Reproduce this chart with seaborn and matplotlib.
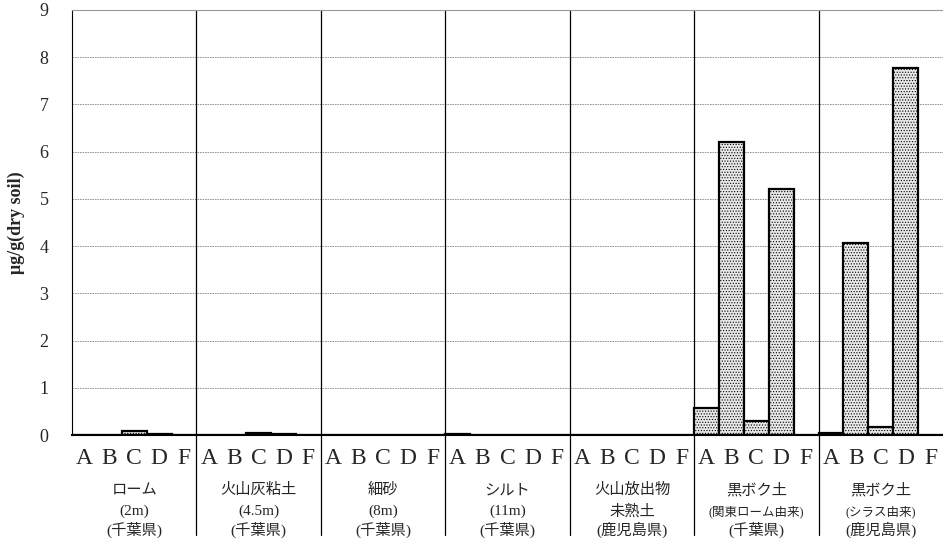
import numpy as np
import pandas as pd
import matplotlib
matplotlib.use('Agg')
import matplotlib.pyplot as plt
import seaborn as sns

# data
letters = ['A', 'B', 'C', 'D', 'F']
group_names = ['ローム', '火山灰粘土', '細砂', 'シルト', '火山放出物', '黒ボク土', '黒ボク土']
group_line2 = ['(2m)', '(4.5m)', '(8m)', '(11m)', '未熟土', '(関東ローム由来)', '(シラス由来)']
group_line3 = ['(千葉県)', '(千葉県)', '(千葉県)', '(千葉県)', '(鹿児島県)', '(千葉県)', '(鹿児島県)']
values = [
    [0.0, 0.0, 0.08, 0.02, 0.0],
    [0.0, 0.0, 0.04, 0.02, 0.0],
    [0.0, 0.0, 0.01, 0.01, 0.0],
    [0.03, 0.0, 0.01, 0.01, 0.0],
    [0.0, 0.01, 0.0, 0.0, 0.0],
    [0.58, 6.2, 0.29, 5.21, 0.0],
    [0.05, 4.07, 0.17, 7.78, 0.0],
]

rows = []
for gi, vals in enumerate(values):
    for li, v in enumerate(vals):
        rows.append({'key': f'{gi}{letters[li]}', 'letter': letters[li], 'value': v})
df = pd.DataFrame(rows)

sns.set_style('white')
plt.rcParams['font.family'] = ['Liberation Serif', 'Noto Sans CJK JP', 'DejaVu Sans']
plt.rcParams['hatch.linewidth'] = 0.5

fig = plt.figure(figsize=(9.43, 5.41), dpi=100)
ax = fig.add_axes([72 / 943, 1 - 435 / 541, 1 - 72 / 943, (435 - 10) / 541])

sns.barplot(data=df, x='key', y='value', order=list(df['key']), width=1.0,
            color='#e8e8e8', edgecolor='black', linewidth=1.6, ax=ax, zorder=3)
for p in ax.patches:
    p.set_hatch('......')

n = len(df)
ax.set_xlim(-0.5, n - 0.5)
ax.set_ylim(0, 9)
ax.set_yticks(range(10))
ax.set_yticklabels([str(i) for i in range(10)], fontsize=13)
ax.tick_params(axis='y', length=0, pad=17)

ax.set_xticks(range(n))
ax.set_xticklabels(list(df['letter']), fontsize=17)
ax.tick_params(axis='x', length=0, pad=9)
ax.set_xticks(np.arange(0.5, n - 1, 1), minor=True)
ax.tick_params(axis='x', which='minor', direction='in', length=4, width=0.8, color='#555555')

for y in range(1, 9):
    ax.axhline(y, color='#888888', lw=0.6, ls=(0, (2, 1)), zorder=1)

ax.spines['right'].set_visible(False)
ax.spines['top'].set_color('#999999')
ax.spines['left'].set_color('black')
ax.spines['bottom'].set_color('black')
ax.spines['bottom'].set_linewidth(1.5)
ax.spines['bottom'].set_zorder(4)

# group separators extending into label area
for g in range(1, len(values)):
    ax.axvline(g * 5 - 0.5, ymin=-0.235, ymax=1, color='black', lw=0.9, clip_on=False, zorder=2)

# group labels
for g in range(len(values)):
    xc = g * 5 + 2
    ax.text(xc, -1.16, group_names[g], ha='center', va='center', fontsize=11,
            family=['Noto Sans CJK JP'])
    small = g >= 5
    ax.text(xc, -1.62, group_line2[g], ha='center', va='center',
            fontsize=9 if small else 11, family=['Liberation Serif', 'Noto Sans CJK JP'])
    ax.text(xc, -2.0, group_line3[g], ha='center', va='center', fontsize=11,
            family=['Liberation Serif', 'Noto Sans CJK JP'])

ax.set_xlabel('')
ax.set_ylabel('μg/g(dry soil)', fontsize=13, fontweight='bold', labelpad=10)

fig.savefig('out.png', dpi=100)
